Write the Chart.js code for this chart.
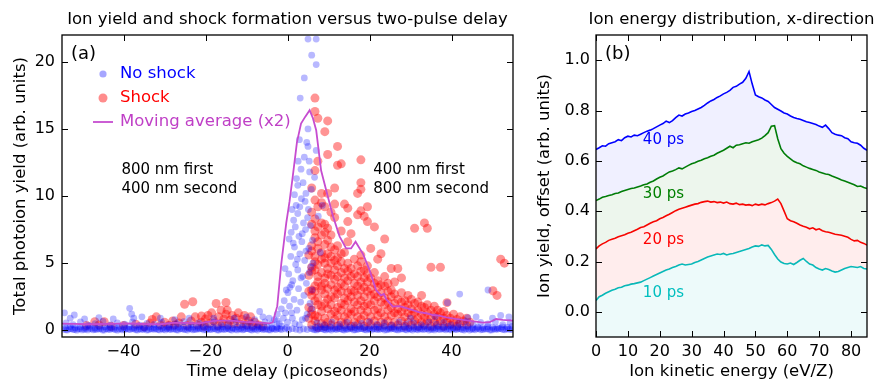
<!DOCTYPE html>
<html>
<head>
<meta charset="utf-8">
<script src="https://cdn.jsdelivr.net/npm/chart.js@4.4.1/dist/chart.umd.min.js"></script>
<style>
  html, body { margin: 0; padding: 0; background: #fff; }
  #wrap { position: relative; width: 879px; height: 383px; }
  #left { position: absolute; left: 0; top: 0; width: 530px; height: 383px; }
  #right { position: absolute; left: 530px; top: 0; width: 349px; height: 383px; }
</style>
</head>
<body>
<div id="wrap">
  <div id="left"><canvas id="delayChart"></canvas></div>
  <div id="right"><canvas id="energyChart"></canvas></div>
</div>
<script>
// ---- panel (a): ion yield vs delay ----
var delayTicks = [-40, -20, 0, 20, 40];
var delayTickLabels = ['\u221240', '\u221220', '0', '20', '40'];
var yieldTicks = [0, 5, 10, 15, 20];
var yieldTickLabels = ['0', '5', '10', '15', '20'];

// no-shock shots, dense low rows
var blueLow = [
  [-54.6,0.08],[-53.7,0.02],[-52.8,0.12],[-51.9,0.05],[-51.0,0.10],[-50.1,0.03],[-49.2,0.09],[-48.3,0.14],[-47.4,0.04],[-46.5,0.08],
  [-45.6,0.11],[-44.7,0.02],[-43.8,0.07],[-42.9,0.13],[-42.0,0.05],[-41.1,0.09],[-40.2,0.03],[-39.3,0.12],[-38.4,0.06],[-37.5,0.10],
  [-36.6,0.02],[-35.7,0.08],[-34.8,0.13],[-33.9,0.04],[-33.0,0.09],[-32.1,0.11],[-31.2,0.03],[-30.3,0.07],[-29.4,0.12],[-28.5,0.05],
  [-27.6,0.09],[-26.7,0.02],[-25.8,0.10],[-24.9,0.06],[-24.0,0.13],[-23.1,0.04],[-22.2,0.08],[-21.3,0.11],[-20.4,0.03],[-19.5,0.09],
  [-18.6,0.06],[-17.7,0.12],[-16.8,0.02],[-15.9,0.08],[-15.0,0.10],[-14.1,0.05],[-13.2,0.13],[-12.3,0.03],[-11.4,0.09],[-10.5,0.07],
  [-9.6,0.11],[-8.7,0.02],[-7.8,0.08],[-6.9,0.12],[-6.0,0.05],[-5.1,0.10],[-4.2,0.03],[-3.3,0.09],[-2.4,0.14],[-1.5,0.06],
  [-0.6,0.10],[0.3,0.04],[1.2,0.12],[2.1,0.07],[3.0,0.02],[3.9,0.10],[4.8,0.06],[5.7,0.13],[6.6,0.04],[7.5,0.09],
  [8.4,0.11],[9.3,0.03],[10.2,0.08],[11.1,0.12],[12.0,0.05],[12.9,0.10],[13.8,0.02],[14.7,0.07],[15.6,0.13],[16.5,0.04],
  [17.4,0.09],[18.3,0.11],[19.2,0.03],[20.1,0.08],[21.0,0.12],[21.9,0.06],[22.8,0.10],[23.7,0.02],[24.6,0.09],[25.5,0.13],
  [26.4,0.05],[27.3,0.08],[28.2,0.11],[29.1,0.03],[30.0,0.07],[30.9,0.12],[31.8,0.04],[32.7,0.09],[33.6,0.10],[34.5,0.02],
  [35.4,0.08],[36.3,0.13],[37.2,0.05],[38.1,0.09],[39.0,0.11],[39.9,0.03],[40.8,0.07],[41.7,0.12],[42.6,0.06],[43.5,0.10],
  [44.4,0.02],[45.3,0.08],[46.2,0.13],[47.1,0.04],[48.0,0.09],[48.9,0.11],[49.8,0.03],[50.7,0.08],[51.6,0.12],[52.5,0.05],
  [53.4,0.10],[54.3,0.07]
];
var blueLow2 = [
  [-54.2,0.22],[-53.0,0.28],[-51.8,0.18],[-50.6,0.25],[-49.4,0.20],[-48.2,0.30],[-47.0,0.17],[-45.8,0.24],[-44.6,0.27],[-43.4,0.19],
  [-42.2,0.23],[-41.0,0.29],[-39.8,0.18],[-38.6,0.26],[-37.4,0.21],[-36.2,0.28],[-35.0,0.17],[-33.8,0.24],[-32.6,0.20],[-31.4,0.27],
  [-30.2,0.22],[-29.0,0.18],[-27.8,0.26],[-26.6,0.23],[-25.4,0.29],[-24.2,0.19],[-23.0,0.25],[-21.8,0.21],[-20.6,0.28],[-19.4,0.17],
  [-18.2,0.24],[-17.0,0.20],[-15.8,0.27],[-14.6,0.22],[-13.4,0.18],[-12.2,0.26],[-11.0,0.23],[-9.8,0.29],[-8.6,0.19],[-7.4,0.25],
  [-6.2,0.21],[-5.0,0.28],[-3.8,0.17],[-2.6,0.24],[-1.4,0.30],[-0.2,0.20],[6.8,0.22],[8.0,0.27],[9.2,0.18],[10.4,0.25],
  [11.6,0.21],[12.8,0.28],[14.0,0.17],[15.2,0.24],[16.4,0.20],[17.6,0.27],[18.8,0.22],[20.0,0.18],[21.2,0.26],[22.4,0.23],
  [23.6,0.29],[24.8,0.19],[26.0,0.25],[27.2,0.21],[28.4,0.28],[29.6,0.17],[30.8,0.24],[32.0,0.20],[33.2,0.27],[34.4,0.22],
  [35.6,0.18],[36.8,0.26],[38.0,0.23],[39.2,0.29],[40.4,0.19],[41.6,0.25],[42.8,0.21],[44.0,0.28],[45.2,0.17],[46.4,0.24],
  [47.6,0.20],[48.8,0.27],[50.0,0.22],[51.2,0.18],[52.4,0.26],[53.6,0.23],[54.8,0.29]
];
var blueLow3 = [
  [-54.1,0.04],[-53.2,0.10],[-52.3,0.06],[-51.4,0.01],[-50.5,0.12],[-49.6,0.07],[-48.7,0.03],[-47.8,0.11],[-46.9,0.05],[-46.0,0.09],
  [-45.1,0.02],[-44.2,0.12],[-43.3,0.06],[-42.4,0.09],[-41.5,0.01],[-40.6,0.11],[-39.7,0.05],[-38.8,0.08],[-37.9,0.13],[-37.0,0.04],
  [-36.1,0.09],[-35.2,0.06],[-34.3,0.02],[-33.4,0.11],[-32.5,0.07],[-31.6,0.05],[-30.7,0.12],[-29.8,0.03],[-28.9,0.08],[-28.0,0.10],
  [-27.1,0.04],[-26.2,0.12],[-25.3,0.07],[-24.4,0.02],[-23.5,0.10],[-22.6,0.05],[-21.7,0.09],[-20.8,0.13],[-19.9,0.04],[-19.0,0.07],
  [-18.1,0.11],[-17.2,0.03],[-16.3,0.09],[-15.4,0.06],[-14.5,0.12],[-13.6,0.02],[-12.7,0.08],[-11.8,0.10],[-10.9,0.04],[-10.0,0.12],
  [-9.1,0.06],[-8.2,0.09],[-7.3,0.02],[-6.4,0.11],[-5.5,0.07],[-4.6,0.04],[-3.7,0.12],[-2.8,0.06],[-1.9,0.10],[6.2,0.08],
  [7.1,0.03],[8.0,0.11],[8.9,0.06],[9.8,0.10],[10.7,0.02],[11.6,0.09],[12.5,0.12],[13.4,0.05],[14.3,0.08],[15.2,0.11],
  [16.1,0.03],[17.0,0.07],[17.9,0.12],[18.8,0.05],[19.7,0.09],[20.6,0.02],[21.5,0.10],[22.4,0.07],[23.3,0.13],[24.2,0.04],
  [25.1,0.08],[26.0,0.11],[26.9,0.03],[27.8,0.09],[28.7,0.06],[29.6,0.12],[30.5,0.02],[31.4,0.08],[32.3,0.10],[33.2,0.05],
  [34.1,0.12],[35.0,0.07],[35.9,0.03],[36.8,0.09],[37.7,0.11],[38.6,0.04],[39.5,0.08],[40.4,0.12],[41.3,0.05],[42.2,0.09],
  [43.1,0.02],[44.0,0.11],[44.9,0.07],[45.8,0.04],[46.7,0.12],[47.6,0.06],[48.5,0.09],[49.4,0.02],[50.3,0.10],[51.2,0.07],
  [52.1,0.13],[53.0,0.04],[53.9,0.09],[54.8,0.06]
];
var blueMid = [
  [-54.0,0.55],[-52.3,0.42],[-50.5,0.62],[-48.6,0.38],[-46.9,0.50],[-45.0,0.66],[-43.2,0.40],[-41.5,0.55],[-39.7,0.45],[-37.8,0.62],
  [-36.0,0.38],[-34.3,0.52],[-32.5,0.44],[-30.7,0.60],[-28.9,0.40],[-27.0,0.50],[-25.3,0.64],[-23.5,0.42],[-21.6,0.55],[-19.8,0.46],
  [-18.0,0.60],[-16.2,0.40],[-14.4,0.52],[-12.6,0.63],[-10.8,0.45],[-9.0,0.58],[-7.2,0.40],[-5.5,0.62],[-3.9,0.48],[-2.5,0.70],
  [7.2,0.55],[9.0,0.42],[10.8,0.60],[12.7,0.46],[14.5,0.58],[16.3,0.40],[18.1,0.52],[20.0,0.64],[21.8,0.44],[23.6,0.56],
  [25.4,0.40],[27.2,0.62],[29.0,0.48],[30.8,0.55],[32.6,0.42],[34.5,0.60],[36.3,0.46],[38.1,0.58],[39.9,0.40],[41.7,0.54],
  [43.5,0.65],[45.3,0.44],[47.1,0.58],[48.9,0.48],[50.7,0.62],[52.5,0.42],[54.3,0.56]
];
var blueSparse = [
  [-54.4,1.3],[-53.0,0.9],[-52.0,1.14],[-49.5,0.85],[-46.0,0.95],[-42.5,0.85],[-38.5,1.64],[-38.0,1.2],[-37.5,0.9],[-35.5,1.0],
  [-31.0,0.9],[-27.5,0.8],[-24.0,0.9],[-18.0,0.9],[-13.0,0.9],[-10.0,1.0],[-8.0,0.8],[-6.8,1.4],[-6.0,1.0],[-4.5,0.9],
  [30.0,0.9],[36.0,1.0],[39.0,2.06],[42.0,2.7],[44.0,0.95],[46.0,1.0],[48.9,3.0],[50.0,0.9],[52.0,1.1],[54.0,1.0],
  [8.0,5.8],[8.5,9.3]
];
var bluePeak = [
  [-3.2,0.8],[-2.5,1.2],[-2.0,0.5],[-1.5,1.6],[-1.0,0.9],[-0.8,2.2],[-0.5,1.3],[-0.3,3.0],[0.0,0.6],[0.1,2.8],
  [0.3,4.2],[0.5,1.8],[0.8,5.5],[0.9,7.3],[1.0,3.4],[1.2,0.9],[1.3,3.7],[1.4,6.5],[1.5,8.2],[1.6,2.3],
  [1.7,10.1],[1.7,6.2],[1.8,0.5],[2.0,4.9],[2.1,9.3],[2.2,11.3],[2.3,1.5],[2.5,4.5],[2.5,8.7],[2.5,10.8],
  [2.7,3.1],[2.8,7.0],[2.9,14.2],[3.0,5.7],[3.1,17.3],[3.2,2.1],[3.3,12.0],[3.4,9.8],[3.5,6.6],[3.6,0.8],
  [3.7,4.0],[3.8,11.0],[3.9,8.0],[4.0,2.6],[4.1,12.9],[4.1,18.8],[4.2,5.2],[4.4,7.5],[4.5,10.2],[4.6,3.5],
  [4.7,14.0],[4.8,1.2],[5.0,15.0],[5.0,13.7],[5.0,21.7],[5.1,9.0],[5.2,6.1],[5.3,4.3],[5.4,11.8],[5.5,2.0],
  [5.6,7.8],[5.8,10.5],[5.9,20.5],[6.0,3.0],[6.2,5.0],[6.6,11.4],[7.0,13.4],[7.0,19.8],[7.0,21.7],[7.5,8.5],
  [0.4,6.8],[0.6,3.2],[1.1,9.0],[1.9,7.7],[2.4,5.3],[2.6,12.6],[3.0,9.2],[3.3,3.9],[3.6,7.2],[4.3,9.6],
  [4.5,5.9],[4.9,8.4],[5.3,12.6],[5.7,4.7],[6.1,6.7],[-0.6,4.6],[1.0,1.3],[2.9,0.4],[4.4,0.9],[5.9,1.6]
];

// shock shots
var redEarly = [
  [-49,0.35],[-47,0.64],[-46,0.4],[-44.7,0.64],[-43,0.3],[-40,0.35],[-37,0.45],[-35,0.27],[-33.5,0.55],[-33,0.8],
  [-32,1.0],[-31,0.4],[-30,0.6],[-29,0.35],[-28,0.7],[-27.5,0.4],[-26.5,0.55],[-25.9,1.0],[-25.1,1.94],[-24.5,0.35],
  [-23.5,0.7],[-23.1,2.13],[-22.5,1.0],[-22,0.4],[-21,1.06],[-21,0.6],[-20.3,0.3],[-20,0.85],[-19.4,1.1],[-19,0.5],
  [-18.5,1.3],[-18,0.7],[-17.4,2.0],[-17,0.35],[-16.8,1.0],[-16.2,1.5],[-16,0.55],[-15.5,0.85],[-15,2.07],[-15,1.2],
  [-14.7,1.5],[-14.5,0.4],[-14,0.75],[-13.5,1.1],[-13,0.5],[-12.5,0.9],[-12,1.3],[-11.5,0.45],[-11,0.8],[-10.5,1.1],
  [-10,0.4],[-9.5,0.7],[-9,1.0],[-8.5,0.35],[-8,0.6],[-7,0.4],[-6,0.3]
];
// columns: [delay, [yields...]]
var redLate = [
  [5.2,[0.9,1.7,2.9,4.1,5.6]],
  [5.9,[0.4,1.2,1.5,2.6,3.0,4.4,4.7,5.9,6.3,7.9,8.8,10.6]],
  [6.7,[0.7,1.1,2.2,2.9,3.3,4.5,5.1,5.5,6.9,7.4,8.3,9.7,11.9,16.3,17.3]],
  [7.4,[0.2,1.0,1.9,2.4,3.6,4.0,4.9,6.1,6.6,7.7,9.2,12.6,15.8]],
  [8.3,[0.5,1.4,1.8,3.0,3.3,4.3,5.3,5.8,7.1,8.0,9.5,10.2]],
  [9.1,[0.3,0.9,2.0,2.7,3.5,3.9,5.0,5.4,6.4,7.3,7.9,9.2,14.8]],
  [9.8,[0.6,1.6,2.3,3.1,4.2,4.6,5.7,6.7,7.6,10.2,13.1,15.6]],
  [10.6,[0.4,1.2,1.9,2.5,3.4,4.1,5.0,5.5,6.2,7.1,8.8]],
  [11.5,[0.8,1.4,2.4,3.0,3.8,4.5,5.2,6.0,8.4,9.4,10.6]],
  [12.2,[0.3,1.1,1.7,2.7,3.2,4.0,4.8,5.4,6.3,12.3,13.7]],
  [13.1,[0.6,1.5,2.0,2.9,3.5,4.3,5.1,5.7,7.4,12.4]],
  [13.9,[0.4,1.0,1.9,2.4,3.3,3.9,4.6,5.8,9.4]],
  [14.7,[0.7,1.3,2.2,2.8,3.7,4.4,5.0,6.6,8.1,9.1]],
  [15.5,[0.3,1.2,1.6,2.5,3.0,4.0,4.6,7.2]],
  [16.3,[0.6,1.4,2.1,2.9,3.5,4.2,5.3]],
  [17.1,[0.4,1.0,1.9,2.6,3.3,4.0,4.8,8.6,10.2]],
  [17.9,[0.8,1.5,2.2,3.0,3.6,4.4,5.1,5.6,8.9,10.5,11.0,12.7]],
  [18.7,[0.3,1.1,1.8,2.5,3.2,3.9,4.5,8.5]],
  [19.5,[0.6,1.4,2.0,2.9,3.6,4.2,4.8,8.1,9.2]],
  [20.3,[0.4,1.0,1.9,2.6,3.1,3.9,6.1]],
  [21.2,[0.7,1.5,2.2,2.7,3.5,4.3,7.7]],
  [22.0,[0.3,1.1,1.6,2.5,3.2,3.7,5.3]],
  [22.8,[0.6,1.3,2.1,2.8,3.4,5.7]],
  [23.7,[0.4,1.0,1.9,2.4,3.3,4.0,6.8]],
  [24.5,[0.7,1.5,2.1,2.9,3.5]],
  [25.3,[0.3,1.1,1.7,2.5,3.0,4.6]],
  [26.1,[0.6,1.3,2.0,2.7,3.6]],
  [26.9,[0.4,1.2,1.6,2.3,4.6]],
  [27.8,[0.7,1.4,2.1,2.8,3.9]],
  [28.6,[0.3,1.0,1.7,2.2]],
  [29.4,[0.6,1.3,1.9,2.6]],
  [30.2,[0.4,1.1,1.6,2.3]],
  [31.0,[0.7,1.3,2.0,7.6]],
  [31.8,[0.3,0.9,1.5,2.1]],
  [32.7,[0.6,1.2,1.8,2.6]],
  [33.4,[0.4,1.0,1.7,8.0]],
  [34.1,[0.7,1.3,1.9,7.6]],
  [35.0,[0.3,0.9,1.5,4.7]],
  [35.8,[0.6,1.2,1.8]],
  [36.6,[0.4,1.0,1.5]],
  [37.3,[0.7,1.3,4.7]],
  [38.1,[0.3,0.9,1.4]],
  [38.9,[0.6,1.1,2.06]],
  [39.7,[0.4,0.9]],
  [40.5,[0.6,1.2]],
  [41.3,[0.3,0.8]],
  [42.1,[0.5,1.0]],
  [42.9,[0.7]],
  [43.7,[0.4,0.9]],
  [44.5,[0.6]],
  [50.1,[2.95]],[51.1,[2.6]],[52.0,[5.3]],[52.9,[5.0]]
];

// moving average (x2)
var avgDelay = [-55,-52,-49,-47.5,-44,-41,-39,-35,-31,-28,-25,-21.5,-19,-17.5,-15,-13,-10.5,-8.5,-6,-4.4,
  -3.6,-2.5,-1.5,-0.3,0.5,1.3,2.3,3.3,4.3,5.4,6.2,7.0,8.2,9.8,11.1,12.7,14.3,15.5,16.6,18.4,
  20,21.6,22.8,23.5,24.1,25.7,27.3,29,30.6,32,33.8,35.4,37,38.7,41,43.6,46,47.6,49.3,50.9,52.5,55];
var avgYield = [0.50,0.48,0.45,0.45,0.48,0.50,0.52,0.47,0.45,0.55,0.55,0.52,0.65,0.72,0.72,0.70,0.62,0.60,0.55,0.52,
  0.60,1.8,5.0,8.0,9.6,11.5,14.0,15.4,15.9,16.4,15.8,14.9,11.9,10.0,8.5,7.0,6.1,6.1,6.6,5.7,
  4.5,3.0,2.6,2.7,2.3,1.76,1.8,1.65,1.5,1.35,1.27,1.14,1.1,0.97,0.85,0.74,0.65,0.57,0.60,0.84,0.78,0.72];

// ---- panel (b): energy spectra ----
var energyTicks = [0, 10, 20, 30, 40, 50, 60, 70, 80];
var offsetTicks = [0, 0.2, 0.4, 0.6, 0.8, 1.0];
var offsetTickLabels = ['0.0', '0.2', '0.4', '0.6', '0.8', '1.0'];
var energy = [0,1,2,3,4,5,6,7,8,9,10,11,12,13,14,15,16,17,18,19,20,21,22,23,24,25,26,27,28,29,
  30,31,32,33,34,35,36,37,38,39,40,41,42,43,44,45,46,47,48,49,50,51,52,53,54,55,56,57,58,59,
  60,61,62,63,64,65,66,67,68,69,70,71,72,73,74,75,76,77,78,79,80,81,82,83,84,85];
var spec40 = [.645,.652,.660,.658,.668,.672,.676,.684,.680,.692,.698,.695,.702,.700,.706,.712,.718,.722,.728,.735,
  .742,.748,.758,.752,.760,.772,.782,.778,.786,.790,.796,.800,.806,.812,.820,.830,.838,.844,.852,.858,
  .866,.872,.880,.892,.896,.905,.912,.928,.955,.905,.862,.855,.850,.842,.836,.824,.812,.805,.798,.790,
  .786,.778,.772,.768,.765,.760,.755,.752,.748,.744,.738,.733,.742,.728,.712,.706,.702,.700,.692,.688,
  .676,.672,.670,.662,.650,.642];
var spec30 = [.442,.448,.455,.458,.462,.465,.470,.472,.478,.482,.486,.490,.492,.496,.500,.505,.508,.515,.520,.528,
  .535,.540,.548,.556,.560,.565,.572,.568,.575,.582,.588,.592,.598,.602,.608,.612,.618,.622,.630,.636,
  .642,.650,.658,.652,.662,.664,.668,.672,.670,.676,.680,.684,.690,.700,.712,.738,.740,.688,.648,.630,
  .618,.608,.598,.592,.588,.580,.575,.570,.566,.562,.556,.552,.548,.546,.540,.535,.530,.524,.520,.515,
  .510,.505,.498,.500,.494,.490];
var spec20 = [.250,.262,.270,.276,.284,.288,.292,.298,.302,.306,.312,.316,.322,.328,.335,.338,.345,.352,.358,.362,
  .370,.375,.382,.388,.395,.402,.408,.412,.416,.420,.424,.428,.430,.435,.438,.440,.436,.438,.434,.436,
  .432,.436,.430,.428,.432,.426,.428,.424,.426,.422,.428,.424,.428,.425,.430,.434,.440,.448,.430,.400,
  .370,.362,.358,.352,.345,.340,.336,.330,.334,.326,.330,.322,.318,.316,.312,.308,.306,.304,.300,.296,
  .288,.282,.284,.276,.272,.265];
var spec10 = [.045,.060,.066,.074,.080,.086,.090,.096,.098,.104,.106,.110,.112,.115,.118,.124,.130,.136,.142,.148,
  .154,.160,.166,.170,.176,.180,.186,.190,.186,.188,.190,.196,.200,.206,.212,.218,.222,.226,.230,.228,
  .232,.226,.230,.232,.236,.240,.244,.248,.252,.258,.262,.260,.266,.262,.264,.248,.228,.210,.198,.192,
  .190,.194,.188,.196,.205,.212,.200,.190,.186,.176,.170,.166,.172,.168,.162,.158,.160,.166,.172,.176,
  .180,.178,.176,.180,.172,.170];

Chart.defaults.font.family = '"DejaVu Sans", sans-serif';
Chart.defaults.color = '#000';

function toPoints(list){ return list.map(function(p){ return {x: p[0], y: p[1]}; }); }
function fromColumns(list){
  var out = [];
  list.forEach(function(c){ c[1].forEach(function(y){ out.push({x: c[0], y: y}); }); });
  return out;
}
function zip(xs, ys){ return xs.map(function(x, i){ return {x: x, y: ys[i]}; }); }

// frame, inward ticks on all four sides, title, tag and text notes
function panelPlugin(cfg){
  return {
    id: 'panel',
    afterDraw: function(chart){
      var ctx = chart.ctx, a = chart.chartArea, sx = chart.scales.x, sy = chart.scales.y;
      ctx.save();
      ctx.strokeStyle = '#000';
      ctx.lineWidth = 1;
      ctx.beginPath();
      sx.ticks.forEach(function(t){
        var p = Math.round(sx.getPixelForValue(t.value)) + 0.5;
        ctx.moveTo(p, a.bottom); ctx.lineTo(p, a.bottom - 6);
        ctx.moveTo(p, a.top); ctx.lineTo(p, a.top + 6);
      });
      sy.ticks.forEach(function(t){
        var p = Math.round(sy.getPixelForValue(t.value)) + 0.5;
        ctx.moveTo(a.left, p); ctx.lineTo(a.left + 6, p);
        ctx.moveTo(a.right, p); ctx.lineTo(a.right - 6, p);
      });
      ctx.stroke();
      ctx.lineWidth = 1.3;
      ctx.strokeRect(a.left, a.top, a.right - a.left, a.bottom - a.top);

      ctx.fillStyle = '#000';
      ctx.textBaseline = 'middle';
      ctx.textAlign = 'center';
      ctx.font = '16.5px "DejaVu Sans"';
      ctx.fillText(cfg.title, (a.left + a.right) / 2, a.top - 15);
      ctx.textAlign = 'left';
      ctx.font = '18px "DejaVu Sans"';
      ctx.fillText(cfg.tag, a.left + 9, a.top + 19);

      cfg.notes.forEach(function(n){
        ctx.font = n.size + 'px "DejaVu Sans"';
        ctx.fillStyle = n.color;
        ctx.fillText(n.text, sx.getPixelForValue(n.x), sy.getPixelForValue(n.y));
      });

      if (cfg.legend) {
        var lx = a.left + 41, tx = a.left + 58;
        ctx.font = '16.5px "DejaVu Sans"';
        cfg.legend.forEach(function(item){
          var ly = a.top + item.dy;
          if (item.kind === 'dot') {
            ctx.fillStyle = item.mark;
            ctx.beginPath(); ctx.arc(lx, ly, item.r, 0, Math.PI * 2); ctx.fill();
          } else {
            ctx.strokeStyle = item.mark; ctx.lineWidth = 1.8;
            ctx.beginPath(); ctx.moveTo(lx - 10, ly); ctx.lineTo(lx + 10, ly); ctx.stroke();
          }
          ctx.fillStyle = item.color;
          ctx.fillText(item.text, tx, ly);
        });
      }
      ctx.restore();
    }
  };
}

var avgColor = '#c64cd0';
var blueDot = 'rgba(0,0,255,0.28)';
var redDot = 'rgba(255,0,0,0.42)';

new Chart(document.getElementById('delayChart'), {
  type: 'scatter',
  data: {
    datasets: [
      { label: 'Moving average (x2)', data: zip(avgDelay, avgYield), showLine: true, pointRadius: 0,
        borderColor: avgColor, borderWidth: 1.8, fill: false },
      { label: 'No shock', data: toPoints(blueLow.concat(blueLow2, blueLow3, blueMid, blueSparse, bluePeak)),
        pointRadius: 3.4, backgroundColor: blueDot, borderWidth: 0 },
      { label: 'Shock', data: toPoints(redEarly).concat(fromColumns(redLate)),
        pointRadius: 4.5, backgroundColor: redDot, borderWidth: 0 }
    ]
  },
  options: {
    responsive: true, maintainAspectRatio: false, animation: false, devicePixelRatio: 1,
    layout: { padding: { left: 0, right: 17, top: 35, bottom: 0 } },
    plugins: { legend: { display: false }, tooltip: { enabled: false } },
    scales: {
      x: {
        type: 'linear', min: -55, max: 55,
        grid: { display: false, drawTicks: false }, border: { display: false },
        afterBuildTicks: function(s){ s.ticks = delayTicks.map(function(v){ return {value: v}; }); },
        afterFit: function(s){ s.height = 46; },
        ticks: { padding: 5, maxRotation: 0, autoSkip: false, font: { size: 16 },
          callback: function(v, i){ return delayTickLabels[i]; } },
        title: { display: true, text: 'Time delay (picoseonds)', font: { size: 16.5 }, padding: { top: 0, bottom: 1 } }
      },
      y: {
        type: 'linear', min: -0.5, max: 22,
        grid: { display: false, drawTicks: false }, border: { display: false },
        afterBuildTicks: function(s){ s.ticks = yieldTicks.map(function(v){ return {value: v}; }); },
        afterFit: function(s){ s.width = 62; },
        ticks: { padding: 7, autoSkip: false, font: { size: 16 },
          callback: function(v, i){ return yieldTickLabels[i]; } },
        title: { display: true, text: 'Total photoion yield (arb. units)', font: { size: 16.5 }, padding: { top: 11, bottom: 0 } }
      }
    }
  },
  plugins: [panelPlugin({
    title: 'Ion yield and shock formation versus two-pulse delay',
    tag: '(a)',
    notes: [
      { text: '800 nm first', x: -40.5, y: 11.9, size: 15, color: '#000' },
      { text: '400 nm second', x: -40.5, y: 10.5, size: 15, color: '#000' },
      { text: '400 nm first', x: 20.9, y: 11.9, size: 15, color: '#000' },
      { text: '800 nm second', x: 20.9, y: 10.5, size: 15, color: '#000' }
    ],
    legend: [
      { kind: 'dot', dy: 39, r: 3.6, mark: 'rgba(0,0,255,0.35)', text: 'No shock', color: '#0000ff' },
      { kind: 'dot', dy: 63, r: 4.5, mark: 'rgba(255,0,0,0.45)', text: 'Shock', color: '#ff0000' },
      { kind: 'line', dy: 87, mark: avgColor, text: 'Moving average (x2)', color: '#bf3fc6' }
    ]
  })]
});

new Chart(document.getElementById('energyChart'), {
  type: 'line',
  data: {
    datasets: [
      { label: '40 ps', data: zip(energy, spec40), borderColor: '#0000ff', backgroundColor: 'rgba(0,0,255,0.06)', fill: '+1' },
      { label: '30 ps', data: zip(energy, spec30), borderColor: '#008000', backgroundColor: 'rgba(0,128,0,0.07)', fill: '+1' },
      { label: '20 ps', data: zip(energy, spec20), borderColor: '#ff0000', backgroundColor: 'rgba(255,0,0,0.07)', fill: '+1' },
      { label: '10 ps', data: zip(energy, spec10), borderColor: '#00bfbf', backgroundColor: 'rgba(0,191,191,0.07)', fill: 'start' }
    ]
  },
  options: {
    responsive: true, maintainAspectRatio: false, animation: false, devicePixelRatio: 1,
    layout: { padding: { left: 0, right: 12, top: 35, bottom: 0 } },
    elements: { point: { radius: 0 }, line: { borderWidth: 1.6, tension: 0 } },
    plugins: { legend: { display: false }, tooltip: { enabled: false } },
    scales: {
      x: {
        type: 'linear', min: 0, max: 85,
        grid: { display: false, drawTicks: false }, border: { display: false },
        afterBuildTicks: function(s){ s.ticks = energyTicks.map(function(v){ return {value: v}; }); },
        afterFit: function(s){ s.height = 46; },
        ticks: { padding: 5, maxRotation: 0, autoSkip: false, font: { size: 16 } },
        title: { display: true, text: 'Ion kinetic energy (eV/Z)', font: { size: 16.5 }, padding: { top: 0, bottom: 1 } }
      },
      y: {
        type: 'linear', min: -0.1, max: 1.1,
        grid: { display: false, drawTicks: false }, border: { display: false },
        afterBuildTicks: function(s){ s.ticks = offsetTicks.map(function(v){ return {value: v}; }); },
        afterFit: function(s){ s.width = 66; },
        ticks: { padding: 6, autoSkip: false, font: { size: 16 },
          callback: function(v, i){ return offsetTickLabels[i]; } },
        title: { display: true, text: 'Ion yield, offset (arb. units)', font: { size: 16.5 }, padding: { top: 5, bottom: 0 } }
      }
    }
  },
  plugins: [panelPlugin({
    title: 'Ion energy distribution, x-direction',
    tag: '(b)',
    notes: [
      { text: '40 ps', x: 14.7, y: 0.683, size: 15, color: '#0000ff' },
      { text: '30 ps', x: 14.7, y: 0.468, size: 15, color: '#008000' },
      { text: '20 ps', x: 14.7, y: 0.285, size: 15, color: '#ff0000' },
      { text: '10 ps', x: 14.7, y: 0.075, size: 15, color: '#00bfbf' }
    ]
  })]
});
</script>
</body>
</html>
